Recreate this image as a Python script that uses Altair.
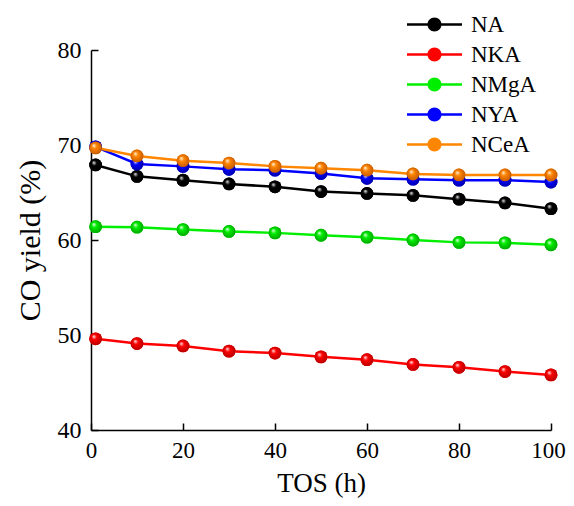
import altair as alt
import pandas as pd

tos = [1, 10, 20, 30, 40, 50, 60, 70, 80, 90, 100]
series_names = ["NA", "NKA", "NMgA", "NYA", "NCeA"]
na = [67.9, 66.7, 66.3, 65.9, 65.6, 65.1, 64.9, 64.7, 64.3, 63.9, 63.3]
nka = [49.6, 49.1, 48.85, 48.3, 48.1, 47.7, 47.4, 46.9, 46.6, 46.15, 45.8]
nmga = [61.4, 61.35, 61.1, 60.9, 60.75, 60.5, 60.3, 60.0, 59.75, 59.7, 59.5]
nya = [69.8, 68.0, 67.75, 67.45, 67.35, 67.0, 66.5, 66.4, 66.3, 66.3, 66.1]
ncea = [69.7, 68.85, 68.35, 68.1, 67.75, 67.55, 67.35, 66.95, 66.85, 66.85, 66.85]
colors = ["#000000", "#FF0000", "#00EE00", "#0000FF", "#FF8600"]
dark = ["#000000", "#B00000", "#00A000", "#0000A0", "#C05500"]

values = [na, nka, nmga, nya, ncea]
rows = []
for name, vals in zip(series_names, values):
    for t, v in zip(tos, vals):
        rows.append({"TOS": t, "yield": v, "series": name})
df = pd.DataFrame(rows)

FONT = "Liberation Serif"
xs = alt.Scale(domain=[0, 100], nice=False)
ys = alt.Scale(domain=[40, 80], nice=False)
cscale = alt.Scale(domain=series_names, range=colors)
inward = alt.ExprRef(expr="-7")

x_main = alt.X("TOS:Q", scale=xs, title="TOS (h)",
               axis=alt.Axis(orient="bottom", values=[0, 20, 40, 60, 80, 100], ticks=True,
                             tickSize=inward, tickWidth=1.5, tickColor="black",
                             grid=False, domain=True, domainColor="black", domainWidth=1.5,
                             labelFont=FONT, labelFontSize=23, labelColor="black", labelPadding=16,
                             labelFlush=False,
                             labelOffset=alt.ExprRef(expr="datum.value == 100 ? -3 : 0"),
                             titleFont=FONT, titleFontSize=27, titleFontWeight="normal",
                             titleColor="black", titlePadding=8))
y_main = alt.Y("yield:Q", scale=ys, title="CO yield (%)",
               axis=alt.Axis(orient="left", values=[40, 50, 60, 70, 80], ticks=True,
                             tickSize=inward, tickWidth=1.5, tickColor="black",
                             grid=False, domain=True, domainColor="black", domainWidth=1.5,
                             labelFont=FONT, labelFontSize=24, labelColor="black", labelPadding=17,
                             labelFlush=False,
                             titleFont=FONT, titleFontSize=30, titleFontWeight="normal",
                             titleColor="black", titlePadding=12))

sym_path = "M-3.93,-0.18L3.93,-0.18L3.93,0.18L-3.93,0.18Z M1,0A1,1,0,1,1,-1,0A1,1,0,1,1,1,0Z"

layers = []
for name, c in zip(series_names, colors):
    layers.append(
        alt.Chart(df[df["series"] == name]).mark_line(strokeWidth=2.5, color=c).encode(
            x=x_main, y=y_main, order=alt.Order("TOS:Q"))
    )

points = alt.Chart(df).mark_circle(size=165, opacity=1).encode(
    x=alt.X("TOS:Q", scale=xs),
    y=alt.Y("yield:Q", scale=ys),
    color=alt.Color("series:N", scale=cscale, sort=series_names,
                    legend=alt.Legend(title=None, orient="none", legendX=332, legendY=-37,
                                      direction="vertical", symbolType=sym_path,
                                      symbolSize=196, symbolStrokeWidth=0,
                                      labelFont=FONT, labelFontSize=23, labelColor="black",
                                      labelOffset=25, rowPadding=6, padding=0)),
)
layers.append(points)

for name, c, d in zip(series_names, colors, dark):
    grad = alt.RadialGradient(
        gradient="radial", x1=0.35, y1=0.3, r1=0.0, x2=0.5, y2=0.5, r2=0.55,
        stops=[alt.GradientStop(offset=0, color="#FFFFFF"),
               alt.GradientStop(offset=0.35, color=c),
               alt.GradientStop(offset=1, color=d)])
    layers.append(
        alt.Chart(df[df["series"] == name]).mark_circle(size=165, opacity=1, fill=grad).encode(
            x=alt.X("TOS:Q", scale=xs),
            y=alt.Y("yield:Q", scale=ys),
        )
    )

chart = alt.layer(*layers).properties(
    width=460, height=380,
    padding={"left": 83, "top": 42, "right": 15, "bottom": 68},
    autosize=alt.AutoSizeParams(type="none"),
).configure_view(stroke=None)

chart.save("out.html", embed_options={"renderer": "svg", "actions": False})
